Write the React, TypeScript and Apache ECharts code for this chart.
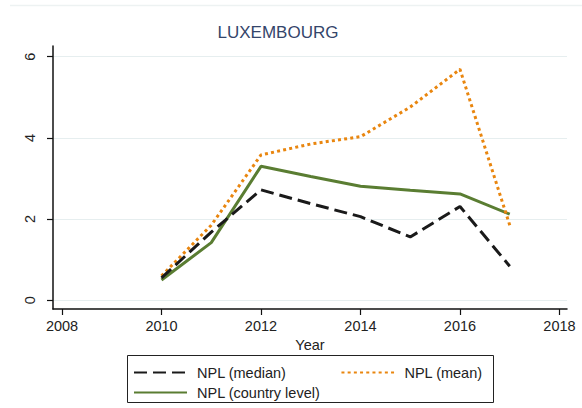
import React, { useEffect, useRef } from "react";
import * as echarts from "echarts";

const years = [2010, 2011, 2012, 2013, 2014, 2015, 2016, 2017];
const nplMedian = [0.55, 1.68, 2.72, 2.38, 2.06, 1.56, 2.31, 0.84];
const nplMean = [0.6, 1.85, 3.58, 3.85, 4.03, 4.76, 5.69, 1.85];
const nplCountry = [0.5, 1.42, 3.3, 3.05, 2.81, 2.71, 2.62, 2.12];
const xTicks = [2008, 2010, 2012, 2014, 2016, 2018];
const yTicks = [0, 2, 4, 6];
const titleText = "LUXEMBOURG";
const xName = "Year";
const names = ["NPL (median)", "NPL (mean)", "NPL (country level)"];

const pairs = (vals: number[]) => years.map((y, i) => [y, vals[i]]);

export default function App() {
  const ref = useRef<HTMLDivElement>(null);
  useEffect(() => {
    if (!ref.current) return;
    const chart = echarts.init(ref.current, null, { renderer: "svg" });
    const font = "Arial, 'Liberation Sans', sans-serif";
    const legendCommon = {
      padding: 0,
      itemWidth: 53,
      itemHeight: 14,
      itemStyle: { opacity: 0, borderWidth: 0 },
      textStyle: { fontFamily: font, fontSize: 14.5, color: "#222", padding: [0, 0, 0, 5] },
    };
    chart.setOption({
      animation: false,
      backgroundColor: "#ffffff",
      grid: { left: 53, right: 15, top: 46, bottom: 99, containLabel: false },
      xAxis: {
        type: "value",
        min: 2007.819,
        max: 2018.151,
        name: xName,
        nameLocation: "middle",
        nameGap: 21,
        nameTextStyle: { fontFamily: font, fontSize: 14.5, color: "#222" },
        axisLine: { show: true, onZero: false, lineStyle: { color: "#111", width: 1.5 } },
        axisTick: { show: true, length: 6, customValues: xTicks, lineStyle: { color: "#111", width: 1.2 } },
        axisLabel: {
          customValues: xTicks,
          margin: 9,
          fontFamily: font,
          fontSize: 14.5,
          color: "#222",
          formatter: (v: number) => String(Math.round(v)),
        },
        splitLine: { show: false },
      },
      yAxis: {
        type: "value",
        min: -0.215,
        max: 6.264,
        axisLine: { show: true, onZero: false, lineStyle: { color: "#111", width: 1.5 } },
        axisTick: { show: true, length: 6, customValues: yTicks, lineStyle: { color: "#111", width: 1.2 } },
        axisLabel: {
          customValues: yTicks,
          rotate: 90,
          margin: 16,
          fontFamily: font,
          fontSize: 14.5,
          color: "#222",
          formatter: (v: number) => String(Math.round(v)),
        },
        splitLine: { show: true, lineStyle: { color: "#e6eeef", width: 1 } },
      },
      legend: [
        { ...legendCommon, data: [names[0], names[1]], left: 133, top: 365, itemGap: 54 },
        { ...legendCommon, data: [names[2]], left: 133, top: 385 },
      ],
      series: [
        {
          name: names[0],
          type: "line",
          data: pairs(nplMedian),
          symbol: "none",
          z: 3,
          lineStyle: { color: "#1a1a1a", width: 3, type: [13, 6] },
          itemStyle: { color: "#1a1a1a" },
        },
        {
          name: names[1],
          type: "line",
          data: pairs(nplMean),
          symbol: "none",
          z: 2,
          lineStyle: { color: "#e9860f", width: 3, type: [3, 3.2] },
          itemStyle: { color: "#e9860f" },
        },
        {
          name: names[2],
          type: "line",
          data: pairs(nplCountry),
          symbol: "none",
          z: 1,
          lineStyle: { color: "#5a7d32", width: 3, type: "solid" },
          itemStyle: { color: "#5a7d32" },
        },
      ],
      graphic: [
        {
          type: "line",
          shape: { x1: 10, y1: 5.5, x2: 582, y2: 5.5 },
          style: { stroke: "#edf2f2", lineWidth: 1.5 },
          silent: true,
        },
        {
          type: "text",
          x: 278,
          y: 32,
          style: {
            text: titleText,
            fontFamily: font,
            fontSize: 17,
            fill: "#34456a",
            textAlign: "center",
            textVerticalAlign: "middle",
          },
        },
        {
          type: "rect",
          shape: { x: 127.5, y: 355.5, width: 366, height: 47 },
          style: { fill: "none", stroke: "#222", lineWidth: 1 },
          silent: true,
        },
      ],
    });
    return () => chart.dispose();
  }, []);
  return (
    <div
      ref={ref}
      style={{ position: "fixed", left: 0, top: 0, width: 582, height: 408 }}
    />
  );
}
